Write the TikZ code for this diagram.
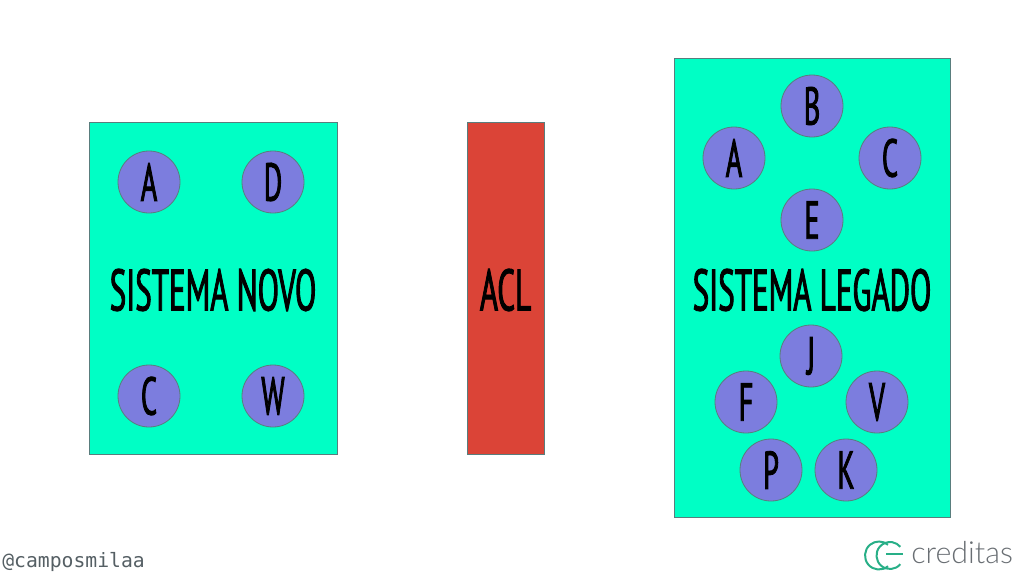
\documentclass[tikz,border=0pt]{standalone}
\usepackage{fontspec}
\newfontfamily\handfont[FakeStretch=0.53,FakeBold=1.5]{PT Sans}
\newfontfamily\handlefont{DejaVu Sans Mono}
\newfontfamily\logofont{Lato Light}
\definecolor{sistemagreen}{RGB}{0,255,197}
\definecolor{aclred}{RGB}{219,68,55}
\definecolor{circlepurple}{RGB}{124,125,222}
\definecolor{edgegray}{RGB}{89,125,125}
\definecolor{handlegray}{RGB}{85,95,100}
\definecolor{logogreen}{RGB}{40,175,135}
\definecolor{logogray}{RGB}{105,110,115}
\tikzset{
  sistemabox/.style={draw=edgegray,line width=0.6pt,fill=sistemagreen,inner sep=0pt},
  aclbox/.style={draw=edgegray,line width=0.6pt,fill=aclred,inner sep=0pt},
  modulo/.style={circle,draw=edgegray,line width=0.6pt,fill=circlepurple,minimum size=46.5pt,inner sep=0pt,font=\handfont\fontsize{40}{40}\selectfont},
  titulo/.style={inner sep=0pt,font=\handfont\fontsize{44}{44}\selectfont}
}
\begin{document}
\begin{tikzpicture}[x=0.75pt,y=0.75pt,yscale=-1]
\useasboundingbox (0,0) rectangle (1024,576);

% Boxes
\draw [sistemabox] (89,122) rectangle (337,454);
\draw [aclbox] (467,122) rectangle (544,454);
\draw [sistemabox] (674,58) rectangle (950,517);

% Sistema novo
\node [modulo] (novoa) at (149,182) {A};
\node [modulo] (novod) at (273,182) {D};
\node [modulo] (novoc) at (149,396) {C};
\node [modulo] (novow) at (273,396) {W};

% Sistema legado
\node [modulo] (legadob) at (812,106) {B};
\node [modulo] (legadoa) at (734,158) {A};
\node [modulo] (legadoc) at (890,158) {C};
\node [modulo] (legadoe) at (812,220) {E};
\node [modulo] (legadoj) at (811,356) {J};
\node [modulo] (legadof) at (746,402) {F};
\node [modulo] (legadov) at (877,402) {V};
\node [modulo] (legadop) at (771,470) {P};
\node [modulo] (legadok) at (846,470) {K};

% Text Node
\node [titulo] (novo) at (213,290) {SISTEMA NOVO};
\node [titulo] (acl) at (505.5,290) {ACL};
\node [titulo] (legado) at (812,290) {SISTEMA LEGADO};
\node [anchor=west,inner sep=0pt,text=handlegray,font=\handlefont\fontsize{14.8}{15}\selectfont] (handle) at (2,562) {@camposmilaa};

% Logo
\draw [logogreen,line width=1.5pt] ([shift={(50:14)}]879,555.5) arc (50:310:14) ;
\draw [logogreen,line width=1.5pt] ([shift={(40:13.5)}]890,555.5) arc (40:320:13.5) ;
\draw [logogreen,line width=1.5pt] (886,553.5) -- (903,553.5) ;
\node [anchor=west,inner sep=0pt,text=logogray,font=\logofont\fontsize{22.8}{23}\selectfont] (creditas) at (911,553) {creditas};

\end{tikzpicture}
\end{document}
